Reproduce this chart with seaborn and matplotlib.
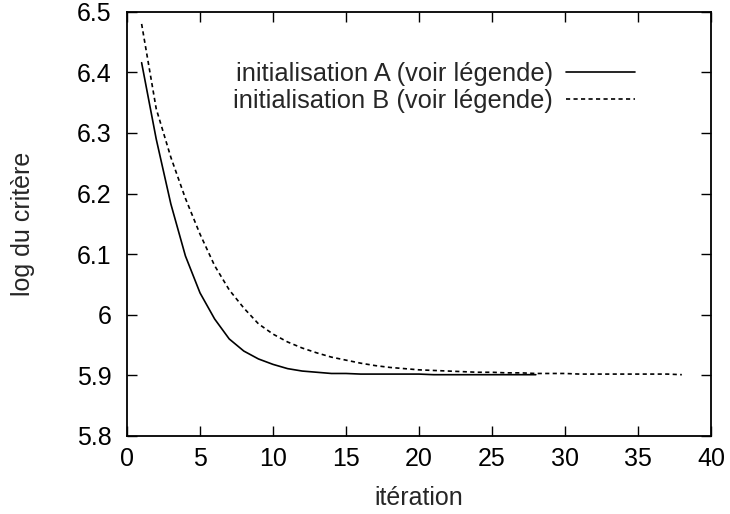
import numpy as np
import pandas as pd
import matplotlib
matplotlib.use("Agg")
import matplotlib.pyplot as plt
import seaborn as sns

# Criterion (log) per iteration for the two initialisations
iter_a = list(range(1, 29))
crit_a = [6.416, 6.290, 6.183, 6.097, 6.036, 5.993, 5.960, 5.940, 5.927, 5.918,
          5.911, 5.907, 5.905, 5.903, 5.903, 5.902, 5.902, 5.902, 5.902, 5.902,
          5.901, 5.901, 5.901, 5.901, 5.901, 5.901, 5.901, 5.901]

iter_b = list(range(1, 39))
crit_b = [6.480, 6.340, 6.260, 6.192, 6.133, 6.081, 6.041, 6.011, 5.985, 5.968,
          5.955, 5.945, 5.937, 5.930, 5.925, 5.920, 5.916, 5.913, 5.911, 5.909,
          5.908, 5.907, 5.906, 5.905, 5.905, 5.904, 5.904, 5.903, 5.903, 5.903,
          5.902, 5.902, 5.902, 5.902, 5.902, 5.902, 5.902, 5.901]

label_a = "initialisation A (voir légende)"
label_b = "initialisation B (voir légende)"

x_ticks = [0, 5, 10, 15, 20, 25, 30, 35, 40]
y_ticks = [5.8, 5.9, 6.0, 6.1, 6.2, 6.3, 6.4, 6.5]
y_tick_labels = ["5.8", "5.9", "6", "6.1", "6.2", "6.3", "6.4", "6.5"]

df = pd.concat([
    pd.DataFrame({"iteration": iter_a, "critere": crit_a, "init": label_a}),
    pd.DataFrame({"iteration": iter_b, "critere": crit_b, "init": label_b}),
], ignore_index=True)

sns.set_style("ticks")
plt.rcParams["font.family"] = ["Liberation Sans", "DejaVu Sans"]
fs = 18

fig = plt.figure(figsize=(7.3, 5.14), dpi=100)
ax = fig.add_axes([0.174, 0.152, 0.800, 0.825])

sns.lineplot(data=df, x="iteration", y="critere", hue="init", style="init",
             palette=["black", "black"],
             dashes={label_a: "", label_b: (2.5, 2.0)},
             linewidth=1.2, ax=ax, legend=True)

ax.set_xlim(0, 40)
ax.set_ylim(5.8, 6.5)
ax.set_xticks(x_ticks)
ax.set_xticklabels([str(t) for t in x_ticks])
ax.set_yticks(y_ticks)
ax.set_yticklabels(y_tick_labels)
ax.tick_params(direction="in", length=7, width=1.0, top=True, right=True,
               labelsize=fs, pad=11, colors="black")
ax.tick_params(axis="x", pad=8)
for sp in ax.spines.values():
    sp.set_linewidth(1.3)
    sp.set_color("black")

ax.set_xlabel("itération", fontsize=fs, labelpad=11)
ax.set_ylabel("log du critère", fontsize=fs, labelpad=30)

handles, labels = ax.get_legend_handles_labels()
leg = ax.legend(handles, labels, loc="upper right", bbox_to_anchor=(0.87, 0.882),
                frameon=False, markerfirst=False, handlelength=2.7,
                handletextpad=0.5, labelspacing=0.12, fontsize=18.4,
                borderaxespad=0, borderpad=0)
for line in leg.get_lines():
    line.set_linewidth(1.2)

fig.savefig("out.png", dpi=100)
